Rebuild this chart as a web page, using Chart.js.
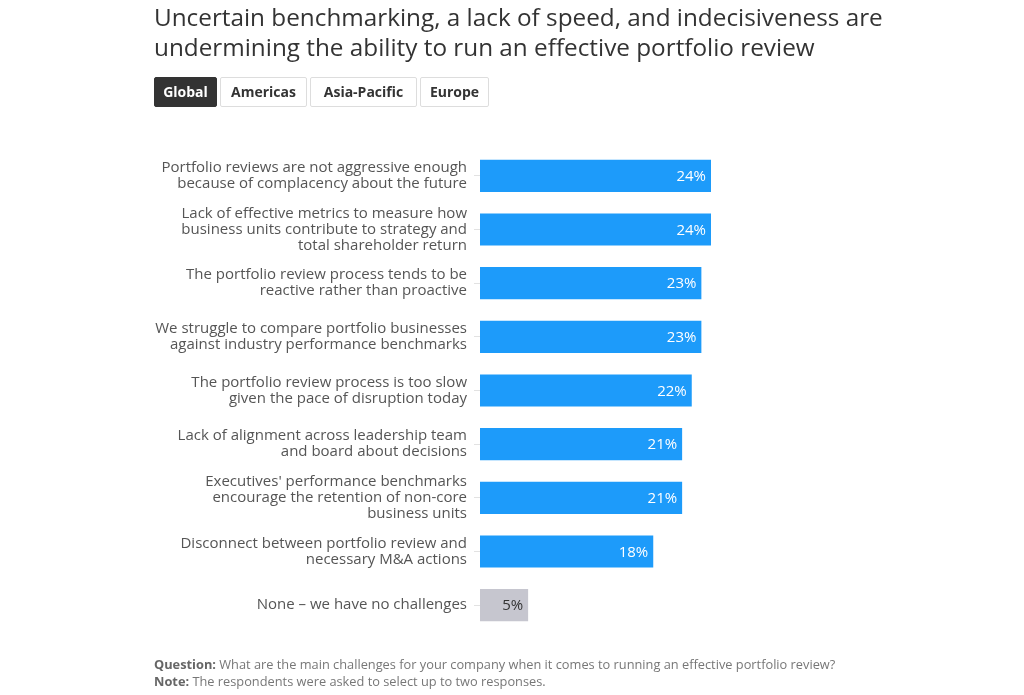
<!DOCTYPE html>
<html>
<head>
<meta charset="utf-8">
<script src="https://cdn.jsdelivr.net/npm/chart.js@4"></script>
<style>
  body { margin: 0; background: #fff; font-family: "Open Sans", sans-serif; }
  #wrap { position: relative; width: 1024px; height: 695px; overflow: hidden; }
  #chart { position: absolute; left: 0; top: 0; }
  h1 { position: absolute; left: 154px; top: 2px; margin: 0; font-weight: 400; font-size: 24.3px; line-height: 30px; color: #333; white-space: nowrap; }
  .tabs { position: absolute; left: 154px; top: 77px; display: flex; gap: 3px; }
  .tabs span { display: inline-block; box-sizing: border-box; height: 30px; line-height: 28px; text-align: center; border: 1px solid #ddd; border-radius: 2px; font-size: 14px; font-weight: 700; color: #333; background: #fff; }
  .tabs span.on { background: #333; color: #fff; border-color: #333; }
  .note { position: absolute; left: 154px; top: 656px; font-size: 12.8px; line-height: 17px; color: #777; white-space: nowrap; }
  .note b { color: #666; }
</style>
</head>
<body>
<div id="wrap">
  <canvas id="chart" width="1024" height="695"></canvas>
  <h1>Uncertain benchmarking, a lack of speed, and indecisiveness are<br>undermining the ability to run an effective portfolio review</h1>
  <div class="tabs"><span class="on" style="width:63px">Global</span><span style="width:87px">Americas</span><span style="width:107px">Asia-Pacific</span><span style="width:69px">Europe</span></div>
  <div class="note"><b>Question:</b> What are the main challenges for your company when it comes to running an effective portfolio review?<br><b>Note:</b> The respondents were asked to select up to two responses.</div>
</div>
<script>

// ---------------- DATA ----------------

const categories = [
    ["Portfolio reviews are not aggressive enough", "because of complacency about the future"],
    ["Lack of effective metrics to measure how", "business units contribute to strategy and", "total shareholder return"],
    ["The portfolio review process tends to be", "reactive rather than proactive"],
    ["We struggle to compare portfolio businesses", "against industry performance benchmarks"],
    ["The portfolio review process is too slow", "given the pace of disruption today"],
    ["Lack of alignment across leadership team", "and board about decisions"],
    ["Executives' performance benchmarks", "encourage the retention of non-core", "business units"],
    ["Disconnect between portfolio review and", "necessary M&A actions"],
    "None – we have no challenges"
];

const values = [24, 24, 23, 23, 22, 21, 21, 18, 5];

const barColors = values.map((v, i) => i === values.length - 1 ? "#c6c6cf" : "#1d9bfa");
const labelColors = values.map((v, i) => i === values.length - 1 ? "#333" : "#fff");

// ---------------- VALUE LABELS ----------------

const valueLabels = {
    id: "valueLabels",
    afterDatasetsDraw(chart) {
        const ctx = chart.ctx;
        const meta = chart.getDatasetMeta(0);
        ctx.save();
        ctx.font = "15px 'Open Sans', sans-serif";
        ctx.textAlign = "right";
        ctx.textBaseline = "middle";
        meta.data.forEach((bar, i) => {
            ctx.fillStyle = labelColors[i];
            ctx.fillText(values[i] + "%", bar.x - 5, bar.y + 1);
        });
        ctx.restore();
    }
};

// ---------------- CHART ----------------

new Chart(document.getElementById("chart"), {

    type: "bar",

    data: {
        labels: categories,
        datasets: [{
            data: values,
            backgroundColor: barColors,
            barPercentage: 0.6,
            categoryPercentage: 1
        }]
    },

    options: {
        responsive: false,
        animation: false,
        indexAxis: "y",
        layout: {
            padding: { left: 100, top: 149, bottom: 63, right: 159 }
        },
        plugins: {
            legend: { display: false },
            tooltip: { enabled: false }
        },
        scales: {
            x: {
                display: false,
                min: 0,
                max: 40
            },
            y: {
                afterFit(scale) { scale.width = 380; },
                border: { display: false },
                grid: {
                    offset: false,
                    drawOnChartArea: false,
                    tickLength: 6,
                    color: "#e2e2e2"
                },
                ticks: {
                    padding: 7,
                    color: "#555",
                    font: { family: "'Open Sans', sans-serif", size: 15, lineHeight: 1.07 }
                }
            }
        }
    },

    plugins: [valueLabels]
});

</script>
</body>
</html>
